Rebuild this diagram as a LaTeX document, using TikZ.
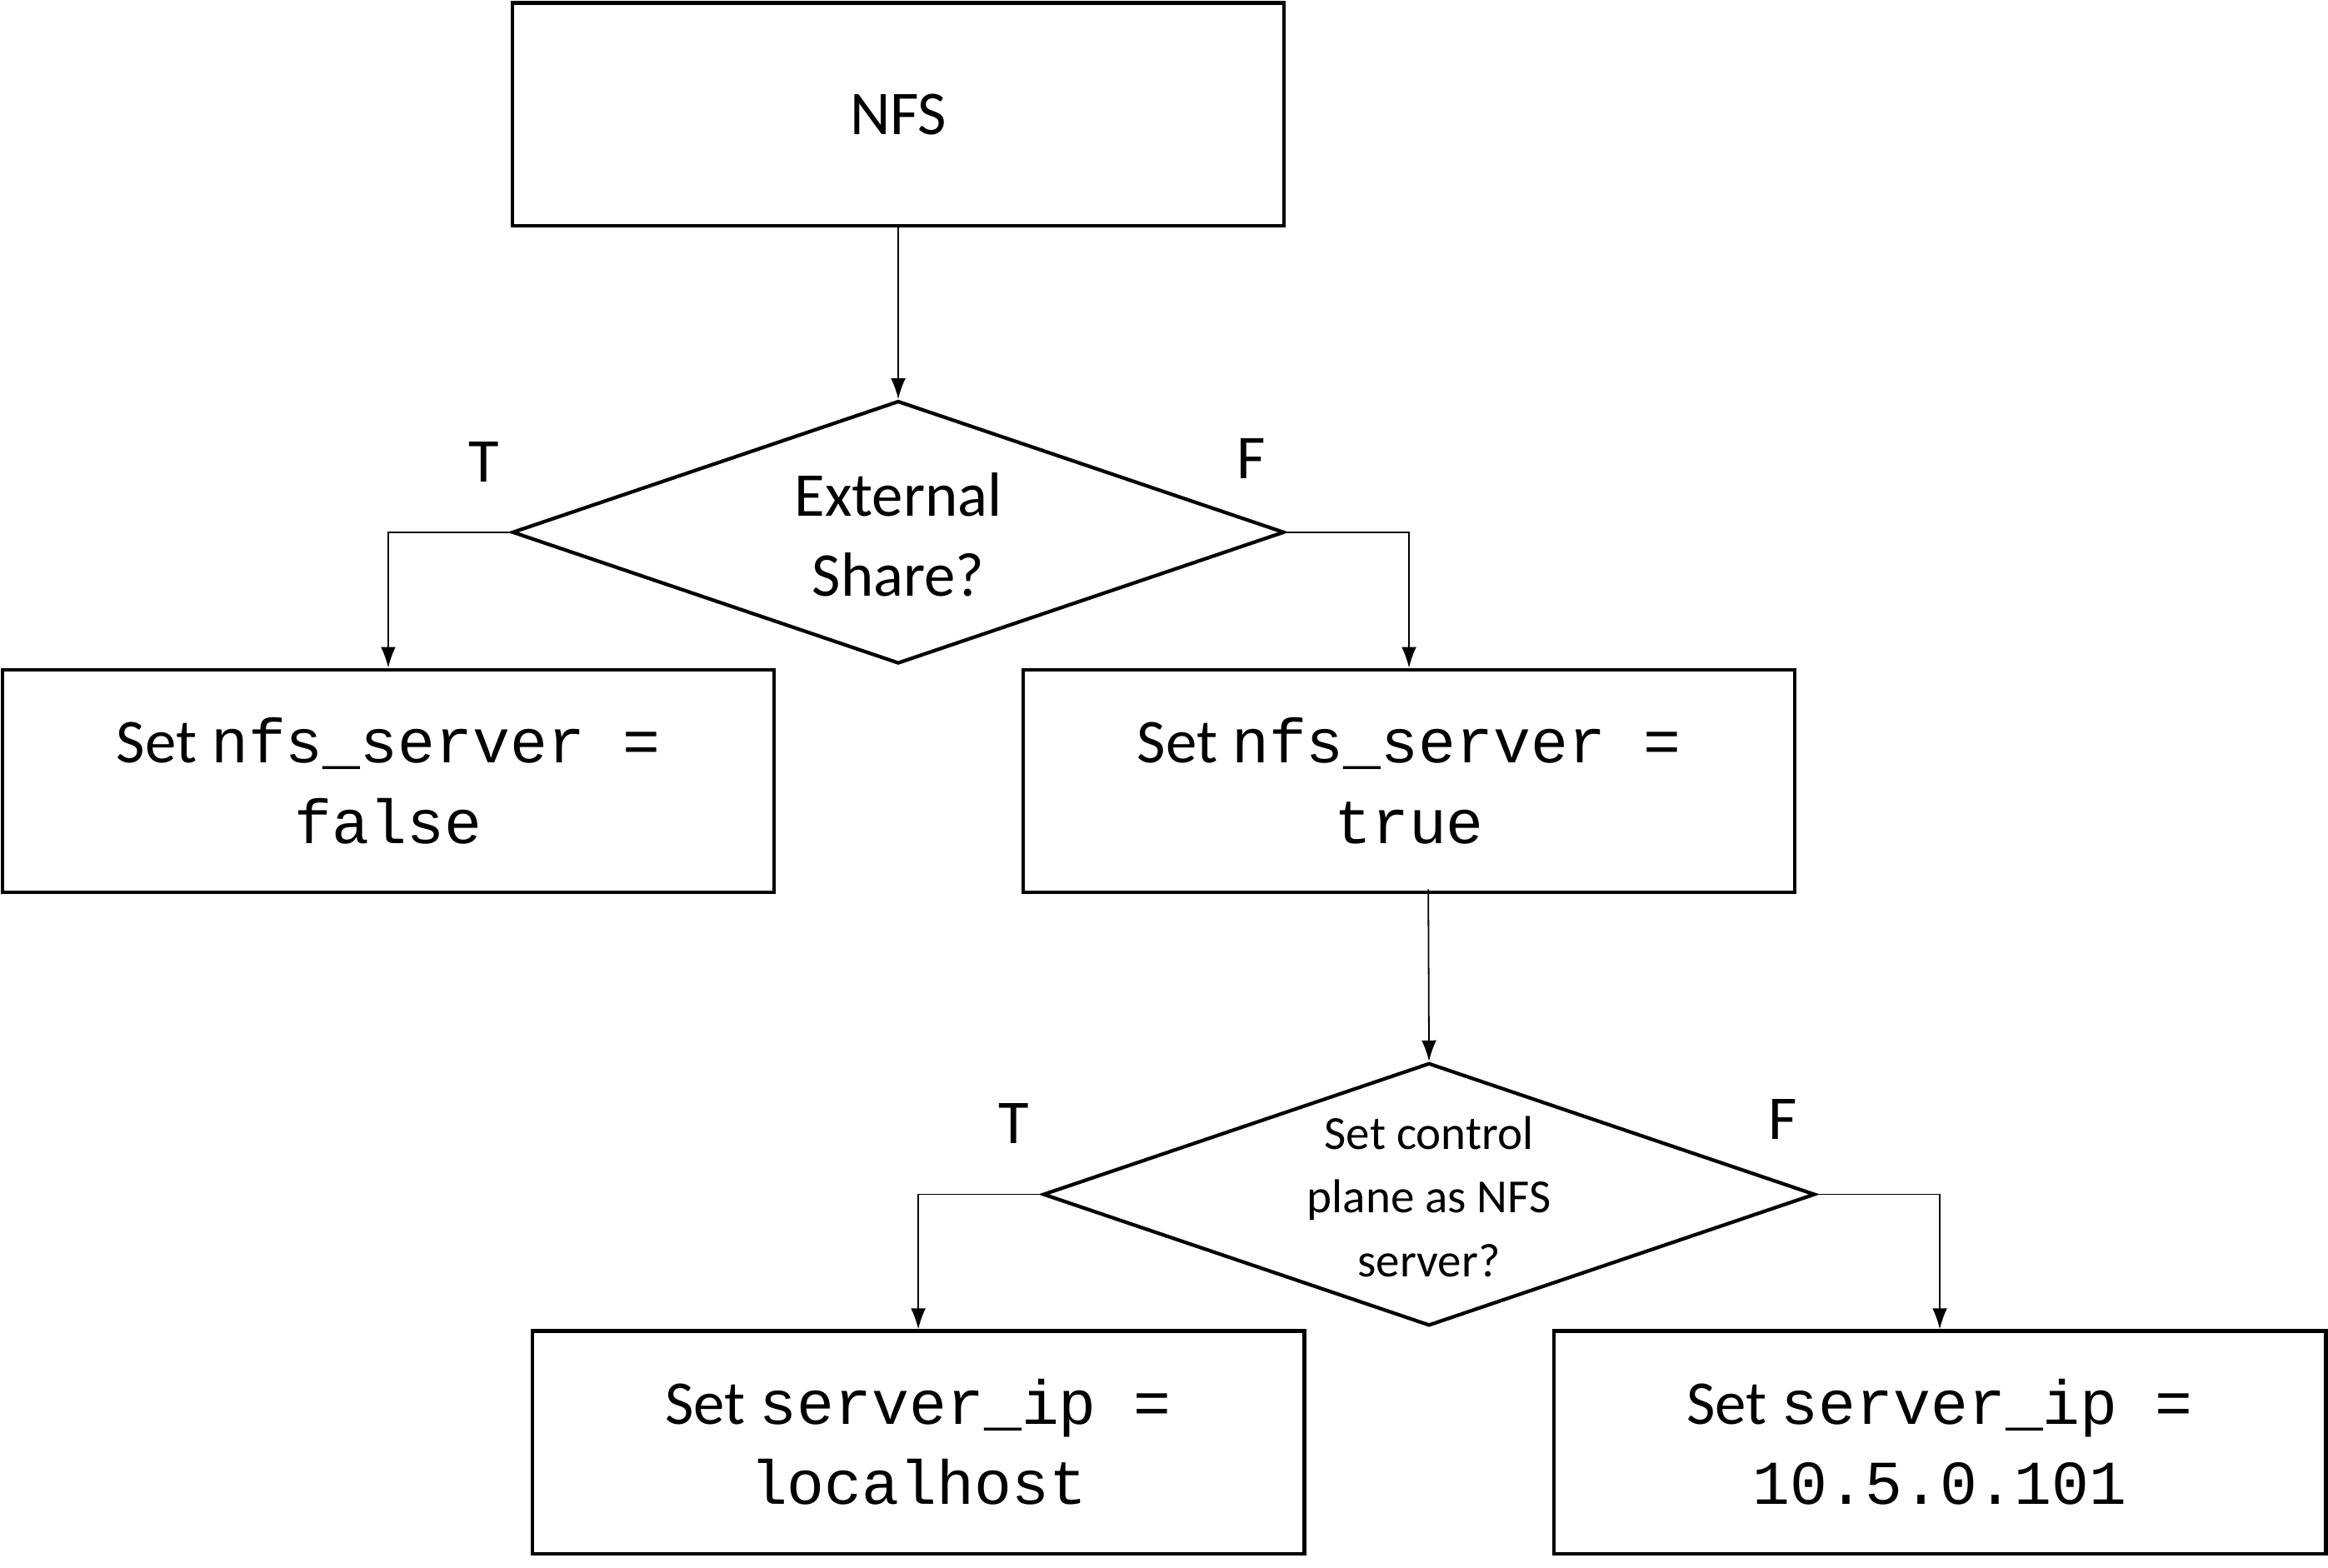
\documentclass[tikz,border=0pt]{standalone}
\usepackage{fontspec}
\setmainfont{Carlito}
\setmonofont{Liberation Mono}
\usetikzlibrary{shapes.geometric,arrows.meta}
\begin{document}
\begin{tikzpicture}[x=0.5pt,y=-0.5pt,
  box/.style={draw,line width=1.2pt,minimum width=260pt,minimum height=75pt,inner sep=0pt,align=center,font=\fontsize{21}{27}\selectfont},
  dia/.style={draw,line width=1.2pt,diamond,minimum width=260pt,minimum height=88.5pt,inner sep=0pt},
  arr/.style={-{Latex[length=7pt,width=5pt]},line width=0.5pt},
  lab/.style={font=\fontsize{21}{25}\selectfont}]
\useasboundingbox (0,0) rectangle (1568,1056);
\node[box] (nfs) at (605,77) {NFS};
\node[dia] (d1) at (605,358.5) {};
\node[align=center,font=\fontsize{21}{27}\selectfont] (d1t) at (605,360) {External\\Share?};
\node[box] (bl) at (261.5,526) {Set \texttt{nfs\_server =}\\\texttt{false}};
\node[box] (br) at (949,526) {Set \texttt{nfs\_server =}\\\texttt{true}};
\node[dia] (d2) at (962.5,804.5) {};
\node[align=center,font=\fontsize{16}{21.5}\selectfont] (d2t) at (962.5,806) {Set control\\plane as NFS\\server?};
\node[box] (cl) at (618.5,971.5) {Set \texttt{server\_ip =}\\\texttt{localhost}};
\node[box] (cr) at (1306.5,971.5) {Set \texttt{server\_ip =}\\\texttt{10.5.0.101}};
\node[lab] (t1) at (326,311) {T};
\node[lab] (f1) at (843,309) {F};
\node[lab] (t2) at (683,757) {T};
\node[lab] (f2) at (1201,754) {F};
\coordinate (brb) at (962,599);
\draw[arr] (nfs.south) -- (d1.north);
\draw[arr] (d1.west) -| (bl.north);
\draw[arr] (d1.east) -| (br.north);
\draw[arr] (brb) -- (d2.north);
\draw[arr] (d2.west) -| (cl.north);
\draw[arr] (d2.east) -| (cr.north);
\end{tikzpicture}
\end{document}
